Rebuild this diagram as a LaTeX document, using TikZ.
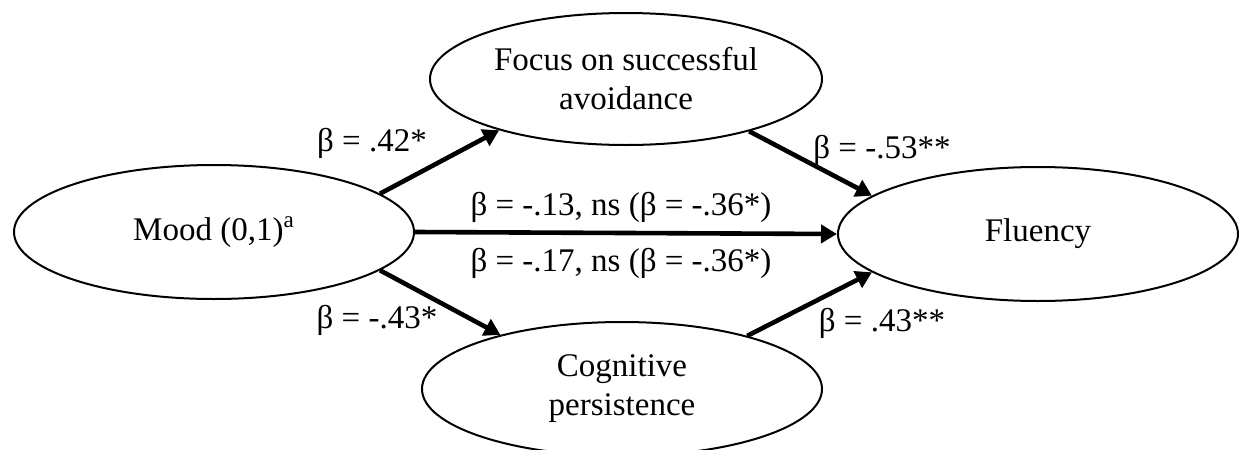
\documentclass[tikz,border=0pt]{standalone}
\usepackage{fontspec}
\setmainfont{Liberation Serif}
\usetikzlibrary{arrows.meta,shapes.geometric}

\begin{document}
\begin{tikzpicture}[x=0.5pt,y=-0.5pt,
    var/.style={draw,line width=1pt,ellipse,inner sep=0pt,minimum width=200pt,minimum height=67pt,align=center,font=\fontsize{16.5}{19.5}\selectfont},
    path/.style={line width=2.3pt,-{Triangle[length=8pt,width=9pt]}},
    coef/.style={font=\fontsize{16.5}{19.5}\selectfont}]
  \useasboundingbox (0,0) rectangle (1239,450);
  \node[var] (mood) at (214,232) {Mood (0,1)\textsuperscript{a}};
  \node[var,minimum width=196pt,minimum height=66pt] (focus) at (626,79) {Focus on successful\\avoidance};
  \node[var] (fluency) at (1038,234) {Fluency};
  \node[var] (cog) at (622,389) {Cognitive\\persistence};
  \draw[path] (mood.13) -- (focus.202);
  \draw[path] (focus.337) -- (fluency.167);
  \draw[path] (mood.east) -- (fluency.west);
  \draw[path] (mood.347) -- (cog.156);
  \draw[path] (cog.23) -- (fluency.193);
  \node[coef] (b1) at (372,143) {β = .42*};
  \node[coef] (b2) at (882,150) {β = -.53**};
  \node[coef] (b3) at (621,207) {β = -.13, ns (β = -.36*)};
  \node[coef] (b4) at (621,263) {β = -.17, ns (β = -.36*)};
  \node[coef] (b5) at (377,320) {β = -.43*};
  \node[coef] (b6) at (882,323) {β = .43**};
\end{tikzpicture}
\end{document}
